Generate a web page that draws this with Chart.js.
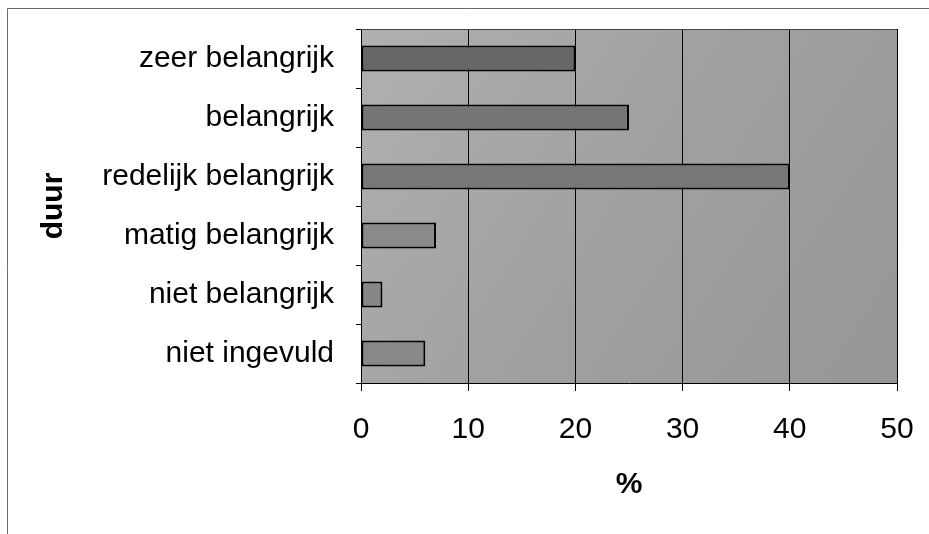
<!DOCTYPE html>
<html><head><meta charset="utf-8">
<script src="https://cdn.jsdelivr.net/npm/chart.js@4.4.0/dist/chart.umd.min.js"></script>
<style>html,body{margin:0;padding:0;background:#fff;} #wrap{width:929px;height:534px;position:relative;}</style>
</head><body><div id="wrap"><canvas id="c" width="929" height="534"></canvas></div>
<script>
const categories = ['zeer belangrijk', 'belangrijk', 'redelijk belangrijk', 'matig belangrijk', 'niet belangrijk', 'niet ingevuld'];
const percentages = [20, 25, 40, 7, 2, 6];
const xTickValues = [0, 10, 20, 30, 40, 50];
const yAxisTitle = 'duur';
const xAxisTitle = '%';
const barColors = ['#676767', '#757575', '#777777', '#8a8a8a', '#878787', '#888888'];

const FONT = '"Liberation Sans", Arial, sans-serif';

const framePlugin = {
  id: 'frame',
  beforeDraw(chart) {
    const ctx = chart.ctx;
    const a = chart.chartArea;
    ctx.save();
    ctx.strokeStyle = '#6a6a6a';
    ctx.lineWidth = 1;
    ctx.beginPath();
    ctx.moveTo(7.5, 534);
    ctx.lineTo(7.5, 8.5);
    ctx.lineTo(929, 8.5);
    ctx.stroke();
    const g = ctx.createLinearGradient(a.left, a.top, a.right, a.bottom);
    g.addColorStop(0, '#b0b0b0');
    g.addColorStop(0.5, '#a0a0a0');
    g.addColorStop(1, '#969696');
    ctx.fillStyle = g;
    ctx.fillRect(a.left, a.top, a.right - a.left, a.bottom - a.top);
    ctx.restore();
  },
  afterDraw(chart) {
    const ctx = chart.ctx;
    const a = chart.chartArea;
    ctx.save();
    ctx.strokeStyle = '#444';
    ctx.lineWidth = 1;
    ctx.beginPath();
    ctx.moveTo(a.left, a.top + 0.5);
    ctx.lineTo(a.right, a.top + 0.5);
    ctx.stroke();
    ctx.restore();
  }
};

new Chart(document.getElementById('c'), {
  type: 'bar',
  data: {
    labels: categories,
    datasets: [{
      data: percentages,
      backgroundColor: barColors,
      borderColor: '#000',
      borderWidth: 2,
      borderSkipped: false,
      barPercentage: 0.44,
      categoryPercentage: 1
    }]
  },
  options: {
    indexAxis: 'y',
    responsive: false,
    animation: false,
    devicePixelRatio: 1,
    layout: { padding: { top: 29, right: 32, left: 0, bottom: 0 } },
    plugins: { legend: { display: false }, tooltip: { enabled: false } },
    scales: {
      x: {
        type: 'linear',
        min: xTickValues[0],
        max: xTickValues[xTickValues.length - 1],
        afterBuildTicks(scale) { scale.ticks = xTickValues.map(v => ({ value: v })); },
        afterFit(scale) { scale.height = 151; scale.paddingLeft = 0; scale.paddingRight = 0; },
        grid: { color: '#000', lineWidth: 1, tickLength: 8, drawOnChartArea: true },
        border: { display: true, color: '#000', width: 1 },
        ticks: { color: '#000', padding: 21, font: { family: FONT, size: 30 } },
        title: { display: true, text: xAxisTitle, color: '#000', padding: { top: 0, bottom: 31 },
                 font: { family: FONT, size: 30, weight: 'bold' } }
      },
      y: {
        afterFit(scale) { scale.width = 361; scale.paddingTop = 0; scale.paddingBottom = 0; },
        grid: { color: '#000', lineWidth: 1, tickLength: 5, drawOnChartArea: false },
        border: { display: true, color: '#000', width: 1 },
        ticks: { color: '#000', padding: 22, font: { family: FONT, size: 30 } },
        title: { display: true, text: yAxisTitle, color: '#000', padding: { top: 36, bottom: 0 },
                 font: { family: FONT, size: 30, weight: 'bold' } }
      }
    }
  },
  plugins: [framePlugin]
});
</script>
</body></html>
